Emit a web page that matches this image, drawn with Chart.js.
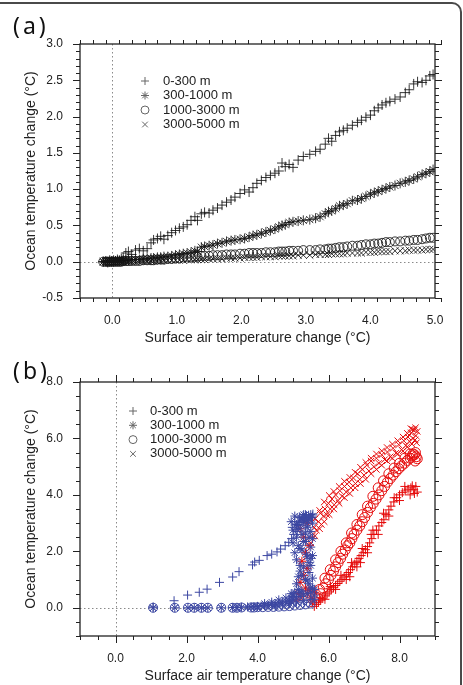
<!DOCTYPE html>
<html><head><meta charset="utf-8">
<script src="https://cdn.jsdelivr.net/npm/chart.js@4.4.0/dist/chart.umd.min.js"></script>
<style>
html,body{margin:0;padding:0;background:#fff;}
body{width:463px;height:685px;position:relative;overflow:hidden;font-family:"Liberation Sans",Arial,sans-serif;}
#frame{position:absolute;left:-12px;top:2px;width:474px;height:720px;border:2px solid #4a4a4a;border-radius:10px;box-sizing:border-box;}
.wrap{position:absolute;left:0;width:463px;}
.plab{position:absolute;font-family:"Noto Sans","DejaVu Sans",sans-serif;font-size:23px;line-height:1;color:#111;letter-spacing:3px;}
</style></head>
<body>
<div id="frame"></div>
<div class="wrap" style="top:0;height:350px"><canvas id="ca" width="463" height="350"></canvas></div>
<div class="wrap" style="top:345px;height:340px"><canvas id="cb" width="463" height="340"></canvas></div>
<div class="plab" style="left:13px;top:14px">(a)</div>
<div class="plab" style="left:13px;top:359px">(b)</div>
<script>
// ---------- shared labels ----------
const layerLabels = ['0-300 m','300-1000 m','1000-3000 m','3000-5000 m'];
const layerStyles = ['cross','star','circle','crossRot'];
const xTitle = 'Surface air temperature change (\u00B0C)';
const yTitle = 'Ocean temperature change (\u00B0C)';

// ---------- panel (a) ----------
const xTicksA = [0,1,2,3,4,5];
const yTicksA = [-0.5,0,0.5,1,1.5,2,2.5,3];
const satA = [-0.14,-0.10,-0.07,-0.04,-0.01,0.02,0.05,0.08,0.11,0.14,0.17,0.21,0.25,
 0.30,0.36,0.42,0.48,0.54,0.60,0.64,0.70,0.75,0.80,0.86,0.92,0.98,
 1.04,1.10,1.16,1.22,1.28,1.32,1.38,1.43,1.50,1.56,1.63,1.70,1.77,1.84,1.90,1.98,
 2.05,2.12,2.18,2.24,2.31,2.38,2.45,2.52,2.58,2.63,2.68,2.74,2.80,2.88,2.96,
 3.06,3.15,3.22,3.30,3.35,3.40,3.46,3.52,3.58,3.64,3.72,3.80,3.86,3.93,
 4.00,4.06,4.12,4.18,4.24,4.30,4.38,4.46,4.54,4.60,4.67,4.73,4.80,4.86,4.92,4.97];
const ocn0_300A = [0.00,0.01,-0.01,0.02,0.00,0.02,0.01,0.03,0.02,0.04,0.06,0.12,0.14,
 0.10,0.16,0.18,0.15,0.18,0.26,0.30,0.32,0.35,0.31,0.36,0.40,0.43,
 0.46,0.48,0.51,0.57,0.62,0.57,0.66,0.68,0.67,0.71,0.74,0.78,0.82,0.85,0.89,0.94,
 0.99,0.96,1.02,1.08,1.12,1.16,1.19,1.22,1.25,1.36,1.31,1.34,1.30,1.40,1.45,
 1.48,1.52,1.55,1.62,1.70,1.66,1.74,1.79,1.81,1.84,1.88,1.92,1.95,1.99,
 2.02,2.08,2.12,2.16,2.19,2.21,2.24,2.27,2.33,2.37,2.45,2.48,2.47,2.50,2.56,2.58];
const ocn300_1000A = [0.00,0.00,0.00,0.00,0.01,0.00,0.01,0.01,0.01,0.01,0.02,0.02,0.02,
 0.03,0.03,0.03,0.04,0.04,0.05,0.05,0.06,0.06,0.07,0.07,0.08,0.09,
 0.10,0.11,0.12,0.13,0.15,0.14,0.20,0.21,0.22,0.23,0.25,0.26,0.28,0.29,0.30,0.31,
 0.32,0.34,0.36,0.37,0.39,0.41,0.43,0.45,0.48,0.50,0.51,0.54,0.55,0.56,0.57,
 0.58,0.60,0.62,0.66,0.69,0.70,0.73,0.77,0.78,0.80,0.84,0.85,0.87,0.90,
 0.93,0.95,0.97,0.99,1.01,1.03,1.05,1.08,1.10,1.12,1.14,1.17,1.20,1.22,1.24,1.27];
const ocn1000_3000A = [0,0,0,0,0,0,0,0,0,0,0.01,0.01,0.01,
 0.01,0.01,0.01,0.02,0.02,0.02,0.02,0.03,0.03,0.03,0.04,0.04,0.05,
 0.05,0.06,0.06,0.06,0.07,0.07,0.08,0.08,0.08,0.09,0.09,0.09,0.10,0.10,0.10,0.11,
 0.11,0.12,0.12,0.12,0.12,0.13,0.13,0.13,0.14,0.14,0.14,0.15,0.15,0.15,0.16,
 0.16,0.16,0.17,0.17,0.18,0.18,0.19,0.20,0.20,0.21,0.22,0.22,0.23,0.24,
 0.24,0.25,0.25,0.26,0.27,0.27,0.28,0.28,0.29,0.29,0.30,0.30,0.31,0.32,0.33,0.33];
const ocn3000_5000A = [0,0,0,0,0,0,0,0,0,0,0,0,0,
 0,0,0.01,0.01,0.01,0.01,0.01,0.01,0.01,0.02,0.02,0.02,0.02,
 0.02,0.02,0.03,0.03,0.03,0.03,0.03,0.03,0.04,0.04,0.04,0.04,0.05,0.05,0.05,0.05,
 0.06,0.06,0.06,0.06,0.07,0.07,0.07,0.07,0.08,0.08,0.08,0.08,0.08,0.09,0.09,
 0.09,0.10,0.10,0.10,0.10,0.11,0.11,0.11,0.11,0.12,0.12,0.12,0.12,0.13,
 0.13,0.13,0.14,0.14,0.14,0.14,0.15,0.15,0.15,0.16,0.16,0.16,0.16,0.17,0.17,0.17];

// ---------- panel (b) ----------
const xTicksB = [0,2,4,6,8];
const yTicksB = [0,2,4,6,8];
// blue phase
const blue0_300X = [1.06,1.65,2.03,2.36,2.58,2.93,3.30,3.48,3.86,3.92,4.05,4.27,4.40,4.55,4.65,4.78,4.88,4.96,5.02,5.08,5.14,5.20,5.26,5.32,5.38,5.44,5.50,5.56,5.05,5.18,5.30,5.42,5.52,4.98,5.12,5.36];
const blue0_300Y = [0.03,0.25,0.45,0.55,0.66,0.90,1.09,1.28,1.52,1.62,1.68,1.85,1.90,1.98,2.08,2.20,2.32,2.45,2.60,2.78,2.92,3.02,3.10,3.18,3.25,3.28,3.30,3.32,3.05,3.22,3.12,3.00,3.20,2.85,2.70,2.90];
const blue300_1000X = [1.06,1.67,2.04,2.22,2.42,2.60,2.98,3.30,3.42,3.55,3.72,3.82,3.90,4.00,4.10,4.20,4.30,4.40,4.50,4.60,4.70,4.80,4.90,5.00,5.10,5.20,5.30,5.40,5.50,5.60,5.55,5.45,5.35,5.25,5.20,5.30,5.45,5.50,5.38,5.25,5.15,5.30,5.45,5.35,5.20,5.10,5.30,5.45,5.55,5.30,5.20,5.40,5.00,5.60,4.95,5.25,
 4.95,5.05,5.15,5.50,5.60,5.10,5.40,5.55,5.15,5.45,5.20,5.50,5.10,5.40,5.55,5.05,5.20,5.50,5.00,5.35,5.55,5.10,5.25,5.50,5.00,5.40,5.15,5.55,4.95,5.25,5.45,5.05,5.35,
 4.20,4.40,4.60,4.80,5.00,5.20,4.50,4.70,4.90,5.10,5.30,5.50];
const blue300_1000Y = [0,0,0,0,0,0,0,0.01,0.01,0.02,0.03,0.03,0.04,0.05,0.06,0.07,0.09,0.12,0.14,0.17,0.20,0.23,0.27,0.30,0.35,0.40,0.45,0.50,0.55,0.45,0.70,0.85,1.00,1.15,1.30,1.45,1.60,1.75,1.90,2.05,2.20,2.35,2.50,2.65,2.80,2.95,3.05,3.15,3.25,3.30,3.20,3.10,0.40,0.30,0.25,0.60,
 0.50,0.55,0.65,0.70,0.65,0.85,0.95,1.05,1.10,1.25,1.50,1.50,1.70,1.80,1.85,1.95,2.10,2.15,2.30,2.35,2.45,2.50,2.60,2.70,2.75,2.85,2.95,3.00,3.05,3.15,3.20,3.25,3.30,
 0.15,0.20,0.28,0.35,0.45,0.55,0.05,0.10,0.15,0.20,0.25,0.30];
const blue1000_3000X = [1.06,1.67,2.04,2.22,2.42,2.60,2.98,3.30,3.42,3.55,3.82,3.90,4.00,4.15,4.30,4.45,4.60,4.75,4.90,5.05,5.20,5.35,5.50];
const blue1000_3000Y = [0,0,0,0,0,0,0,0,0,0.01,0.01,0.01,0.02,0.02,0.03,0.03,0.04,0.05,0.06,0.08,0.10,0.12,0.15];
const blue3000_5000X = [1.06,1.67,2.04,2.22,2.42,2.60,2.98,3.30,3.42,3.55,3.82,3.90,4.00,4.15,4.30,4.45,4.60,4.75,4.90,5.05,5.20,5.35,5.50];
const blue3000_5000Y = [0,0,0,0,0,0,0,0,0,0,0.01,0.01,0.01,0.02,0.02,0.03,0.04,0.05,0.06,0.07,0.09,0.11,0.13];
// red phase
const redTopX = [5.55,5.60,5.66,5.72,5.77,5.80,5.86,5.90,5.95,6.00,6.05,6.10,6.16,6.20,6.27,6.32,6.38,6.45,6.50,6.58,6.63,6.70,6.76,6.82,6.88,6.95,7.00,7.08,7.14,7.20,7.28,7.35,7.42,7.50,7.58,7.66,7.74,7.82,7.90,7.98,8.06,8.12,8.18,8.24,8.28,8.33,8.38,8.42,8.46,8.50,8.44,8.36,
 5.62,5.75,5.88,6.02,6.15,6.30,6.45,6.60,6.75,6.90,7.05,7.20,7.35,7.50,7.65,7.80,7.95,8.10,8.22,8.32,8.45,
 5.50,5.62,5.75,5.88,6.02,6.15,6.30,6.45,6.60,6.75,6.90,7.05,7.20,7.35,7.50,7.65,7.80,7.95,8.10,8.22,8.35,8.48];
const redTopY = [2.55,2.85,2.75,3.05,3.35,2.95,3.25,3.50,3.30,3.70,3.50,3.85,3.65,4.00,3.80,4.15,3.95,4.30,4.10,4.45,4.25,4.60,4.40,4.75,4.55,4.90,4.70,5.05,4.85,5.20,5.00,5.30,5.12,5.42,5.25,5.52,5.35,5.65,5.48,5.78,5.60,5.92,5.75,6.05,5.90,6.20,6.00,6.30,6.10,6.25,5.95,6.32,
 3.15,3.45,3.75,3.98,4.12,4.30,4.48,4.62,4.80,4.98,5.15,5.30,5.45,5.56,5.68,5.80,5.92,6.05,6.18,6.35,6.38,
 2.30,2.55,2.80,3.05,3.30,3.50,3.70,3.90,4.05,4.25,4.40,4.55,4.75,4.90,5.05,5.20,5.30,5.45,5.55,5.70,5.80,5.85];
const redCircX = [5.70,5.78,5.85,5.92,6.00,6.07,6.14,6.20,6.27,6.34,6.40,6.47,6.54,6.60,6.66,6.72,6.80,6.88,6.95,7.02,7.10,7.18,7.26,7.34,7.42,7.50,7.58,7.66,7.74,7.82,7.90,7.98,8.06,8.14,8.22,8.30,8.36,8.42,8.47,8.50,8.44,8.38,
 5.75,5.90,6.05,6.20,6.35,6.50,6.65,6.80,6.95,7.10,7.25,7.40,7.55,7.70,7.85,8.00,8.15,8.30,8.45];
const redCircY = [0.35,0.50,0.70,0.85,1.00,1.15,1.30,1.45,1.60,1.75,1.90,2.05,2.20,2.30,2.45,2.60,2.75,2.90,3.05,3.20,3.38,3.55,3.70,3.85,4.00,4.15,4.30,4.45,4.58,4.70,4.82,4.93,5.03,5.12,5.22,5.30,5.38,5.42,5.35,5.28,5.20,5.45,
 0.65,1.05,1.35,1.70,2.00,2.30,2.65,2.95,3.30,3.60,3.95,4.25,4.50,4.75,4.95,5.12,5.30,5.45,5.50];
const redLowX = [5.60,5.66,5.72,5.78,5.84,5.90,5.96,6.02,6.08,6.14,6.20,6.26,6.32,6.38,6.44,6.50,6.56,6.62,6.68,6.74,6.80,6.86,6.92,6.98,7.04,7.10,7.16,7.22,7.28,7.35,7.42,7.50,7.56,7.62,7.70,7.76,7.84,7.92,8.00,8.08,8.16,8.24,8.32,8.40,8.46,8.50,8.42,8.36,6.60,6.90,7.20,
 5.75,6.05,6.35,6.65,6.95,7.25,7.55,7.85,8.15,5.90,6.20,6.50,6.80,7.10,7.40,7.70,8.00,8.30];
const redLowY = [0.05,0.12,0.20,0.27,0.34,0.42,0.49,0.56,0.64,0.71,0.79,0.86,0.94,1.01,1.09,1.17,1.25,1.35,1.45,1.55,1.65,1.75,1.85,1.95,2.06,2.17,2.30,2.45,2.60,2.75,2.90,3.02,3.12,3.30,3.47,3.60,3.75,3.90,4.00,4.08,4.14,4.20,4.25,4.18,4.30,4.10,4.05,4.32,1.10,1.60,2.60,
 0.35,0.75,1.15,1.60,2.10,2.75,3.35,3.90,4.30,0.30,0.65,1.00,1.45,1.95,2.60,3.25,3.80,4.00];
const redColX = [5.10,5.25,5.40,5.50,5.60,5.35,5.20,5.30,5.40,5.25,5.35,5.45,5.30,5.20,5.40,5.50,5.55,5.45,5.15];
const redColY = [0.30,0.40,0.50,0.35,0.55,0.70,0.90,1.15,1.40,1.65,1.95,2.20,2.50,2.80,3.00,3.20,0.20,0.62,0.50];

// ---------- helpers ----------
const BLACK = 'rgba(20,20,20,0.85)', BLUE = '#3c47a2', RED = '#e50a0a';
const pts = (xs, ys) => xs.map((x, i) => ({x: x, y: ys[i]}));
function ds(label, data, style, color, r) {
  return {label, data, showLine:false, pointStyle:style, pointRadius:r, pointHoverRadius:r,
    pointBorderWidth:1, borderColor:color, pointBorderColor:color,
    backgroundColor:'rgba(0,0,0,0)', pointBackgroundColor:'rgba(0,0,0,0)'};
}

const frameTicks = {
  id:'frameTicks',
  beforeDatasetsDraw(chart, args, o) {
    const {ctx, chartArea:a, scales:{x, y}} = chart;
    ctx.save();
    ctx.strokeStyle = '#8a8a8a'; ctx.lineWidth = 1; ctx.setLineDash([1.5, 2.5]);
    const x0 = Math.round(x.getPixelForValue(0)) + 0.5, y0 = Math.round(y.getPixelForValue(0)) + 0.5;
    ctx.beginPath(); ctx.moveTo(x0, a.top); ctx.lineTo(x0, a.bottom);
    ctx.moveTo(a.left, y0); ctx.lineTo(a.right, y0); ctx.stroke();
    ctx.restore();
  },
  afterDraw(chart, args, o) {
    const {ctx, chartArea:a, scales:{x, y}} = chart;
    ctx.save();
    ctx.strokeStyle = '#222'; ctx.lineWidth = 1.3; ctx.setLineDash([]);
    ctx.strokeRect(a.left, a.top, a.right - a.left, a.bottom - a.top);
    ctx.lineWidth = 1;
    const marks = (sc, minor, major) => {
      const out = []; const n = Math.round((sc.max - sc.min) / minor);
      for (let i = 0; i <= n; i++) {
        const v = sc.min + i * minor; const q = v / major;
        out.push({p: sc.getPixelForValue(v), major: Math.abs(q - Math.round(q)) < 1e-6});
      }
      return out;
    };
    ctx.beginPath();
    for (const t of marks(x, o.xMinor, o.xMajor)) {
      const L = t.major ? 7 : 4; const px = Math.round(t.p) + 0.5;
      ctx.moveTo(px, a.bottom); ctx.lineTo(px, a.bottom + L);
      ctx.moveTo(px, a.top); ctx.lineTo(px, a.top - L);
    }
    for (const t of marks(y, o.yMinor, o.yMajor)) {
      const L = t.major ? 7 : 4; const py = Math.round(t.p) + 0.5;
      ctx.moveTo(a.left, py); ctx.lineTo(a.left - L, py);
      ctx.moveTo(a.right, py); ctx.lineTo(a.right + L, py);
    }
    ctx.stroke();
    // inner legend
    const lg = o.legend;
    ctx.font = '13px "Liberation Sans", Arial, sans-serif';
    ctx.textBaseline = 'middle'; ctx.textAlign = 'left';
    layerLabels.forEach((lab, i) => {
      const yy = lg.y + i * lg.dy;
      ctx.strokeStyle = '#666'; ctx.fillStyle = 'rgba(0,0,0,0)'; ctx.lineWidth = 1;
      Chart.helpers.drawPoint(ctx, {pointStyle: layerStyles[i], radius: 4, borderWidth: 1, rotation: 0}, lg.x, yy);
      ctx.fillStyle = '#222';
      ctx.fillText(lab, lg.tx, yy);
    });
    ctx.restore();
  }
};

function axes(xmin, xmax, xt, ymin, ymax, yt, xh, titleBottom) {
  return {
    x: {type:'linear', min:xmin, max:xmax,
      afterBuildTicks: s => { s.ticks = xt.map(v => ({value:v})); },
      afterFit: s => { s.height = xh; },
      grid:{display:false, drawTicks:false}, border:{display:false},
      ticks:{padding:15, color:'#222', font:{size:12}, maxRotation:0, autoSkip:false, callback:v => Number(v).toFixed(1)},
      title:{display:true, text:xTitle, color:'#222', font:{size:14}, padding:{top:0, bottom:titleBottom}}},
    y: {type:'linear', min:ymin, max:ymax,
      afterBuildTicks: s => { s.ticks = yt.map(v => ({value:v})); },
      afterFit: s => { s.width = 80; },
      grid:{display:false, drawTicks:false}, border:{display:false},
      ticks:{padding:17, color:'#222', font:{size:12}, autoSkip:false, callback:v => Number(v).toFixed(1)},
      title:{display:true, text:yTitle, color:'#222', font:{size:14}, padding:{top:23, bottom:0}}}
  };
}

const common = {responsive:false, animation:false, devicePixelRatio:1};

new Chart(document.getElementById('ca'), {
  type:'scatter',
  data:{datasets:[
    ds(layerLabels[0], pts(satA, ocn0_300A), 'cross', BLACK, 5),
    ds(layerLabels[1], pts(satA, ocn300_1000A), 'star', BLACK, 5),
    ds(layerLabels[2], pts(satA, ocn1000_3000A), 'circle', BLACK, 4.5),
    ds(layerLabels[3], pts(satA, ocn3000_5000A), 'crossRot', BLACK, 5)
  ]},
  options:Object.assign({}, common, {
    layout:{padding:{top:44, right:28, left:0, bottom:0}},
    scales:axes(-0.5, 5, xTicksA, -0.5, 3, yTicksA, 52, 3),
    plugins:{legend:{display:false}, tooltip:{enabled:false},
      frameTicks:{xMinor:0.2, xMajor:1, yMinor:0.1, yMajor:0.5, legend:{x:145, tx:163, y:81, dy:14.5}}}
  }),
  plugins:[frameTicks]
});

new Chart(document.getElementById('cb'), {
  type:'scatter',
  data:{datasets:[
    ds(layerLabels[0], pts(blue0_300X, blue0_300Y), 'cross', BLUE, 4.5),
    ds(layerLabels[1], pts(blue300_1000X, blue300_1000Y), 'star', BLUE, 4.5),
    ds(layerLabels[2], pts(blue1000_3000X, blue1000_3000Y), 'circle', BLUE, 4.5),
    ds(layerLabels[3], pts(blue3000_5000X, blue3000_5000Y), 'crossRot', BLUE, 4.5),
    ds(layerLabels[1] + ' (red)', pts(redColX, redColY), 'star', RED, 4.5),
    ds(layerLabels[3] + ' (red)', pts(redTopX, redTopY), 'crossRot', RED, 4.5),
    ds(layerLabels[2] + ' (red)', pts(redCircX, redCircY), 'circle', RED, 5),
    ds(layerLabels[0] + ' (red)', pts(redLowX, redLowY), 'cross', RED, 4.5)
  ]},
  options:Object.assign({}, common, {
    layout:{padding:{top:37, right:28, left:0, bottom:0}},
    scales:axes(-1, 9, xTicksB, -1, 8, yTicksB, 49, 0),
    plugins:{legend:{display:false}, tooltip:{enabled:false},
      frameTicks:{xMinor:0.5, xMajor:2, yMinor:0.5, yMajor:2, legend:{x:133, tx:150, y:66, dy:14.3}}}
  }),
  plugins:[frameTicks]
});
</script>
</body></html>
